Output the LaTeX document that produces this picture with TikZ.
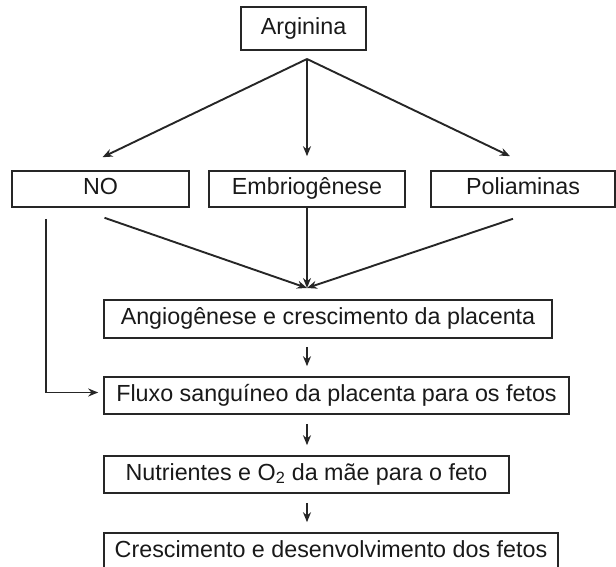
\documentclass[tikz,border=0pt]{standalone}
\usepackage{fontspec}
\setmainfont{Liberation Sans}
\usetikzlibrary{shapes.geometric, arrows, arrows.meta, positioning, calc}

\begin{document}
\begin{tikzpicture}[x=1pt, y=-1pt]
		\tikzstyle{Box} = [rectangle, minimum height=37pt, text centered, draw=black!85, line width=1.6pt, text=black!90, font=\fontsize{23.3}{27}\selectfont, text height=16.5pt, text depth=5pt, inner sep=0pt]
		\tikzstyle{arrow} = [line width=1.9pt, draw=black!85, ->, >={Stealth[length=10pt, width=8pt]}]
		
		\useasboundingbox (0,0) rectangle (616,567);
		
		\node (arg) [Box, minimum width=125pt, minimum height=43pt] at (303.5,28.5) {Arginina};
		\node (no) [Box, minimum width=177pt, minimum height=36pt] at (100.5,189) {NO};
		\node (emb) [Box, minimum width=196pt, minimum height=36pt] at (307,189) {Embriogênese};
		\node (pol) [Box, minimum width=184pt, minimum height=36pt] at (523,189) {Poliaminas};
		
		\node (ang) [Box, minimum width=448pt, minimum height=38pt] at (328,319) {Angiogênese e crescimento da placenta};
		\node (flu) [Box, minimum width=465pt] at (336.5,395.5) {Fluxo sanguíneo da placenta para os fetos};
		\node (nut) [Box, minimum width=405pt] at (306.5,474.5) {Nutrientes e O\textsubscript{2} da mãe para o feto};
		\node (cre) [Box, minimum width=454pt] at (331,551.5) {Crescimento e desenvolvimento dos fetos};
		
		\coordinate (top) at (307,59);
		\draw [arrow] (top) -- ([xshift=2pt,yshift=13pt]no.north);
		\draw [arrow] (top) -- ([yshift=14pt]emb.north);
		\draw [arrow] (top) -- ([xshift=-13pt,yshift=14pt]pol.north);
		
		\coordinate (join) at (307,288);
		\draw [arrow] ([xshift=4pt,yshift=-10pt]no.south) -- (join);
		\draw [arrow] (emb.south) -- (join);
		\draw [arrow] ([xshift=-10pt,yshift=-11pt]pol.south) -- (join);
		
		\draw [arrow] ([xshift=-54.5pt,yshift=-11pt]no.south) |- ([xshift=-5pt,yshift=3pt]flu.west);
		
		\draw [arrow] ($(ang.south -| emb.south)+(0,8)$) -- ($(flu.north -| emb.south)+(0,-10)$);
		\draw [arrow] ($(flu.south -| emb.south)+(0,9)$) -- ($(nut.north -| emb.south)+(0,-10)$);
		\draw [arrow] ($(nut.south -| emb.south)+(0,9)$) -- ($(cre.north -| emb.south)+(0,-10)$);
\end{tikzpicture}
\end{document}
